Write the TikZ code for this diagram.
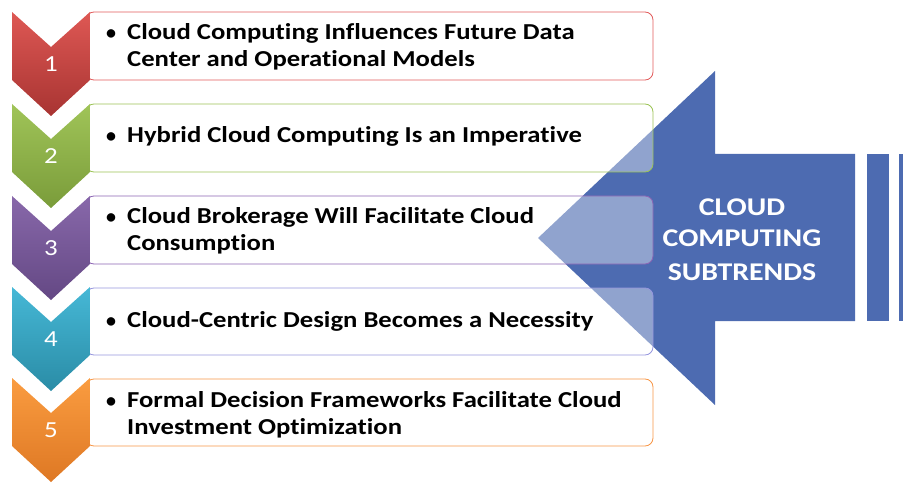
\documentclass[tikz,border=0pt]{standalone}
\usepackage{fontspec}
\setmainfont{Carlito}[Ligatures=NoCommon]
\newfontfamily\widefont{Carlito}[FakeStretch=1.17, Ligatures=NoCommon]
\definecolor{arrowblue}{RGB}{77,107,177}
\definecolor{redA}{RGB}{222,88,84}
\definecolor{redB}{RGB}{168,52,50}
\definecolor{greenA}{RGB}{160,196,88}
\definecolor{greenB}{RGB}{122,156,58}
\definecolor{purpA}{RGB}{136,104,170}
\definecolor{purpB}{RGB}{100,72,132}
\definecolor{tealA}{RGB}{70,184,214}
\definecolor{tealB}{RGB}{42,140,166}
\definecolor{oranA}{RGB}{250,156,64}
\definecolor{oranB}{RGB}{222,120,36}
\definecolor{bred}{RGB}{226,92,92}
\definecolor{bgreen}{RGB}{155,195,85}
\definecolor{bpurp}{RGB}{140,100,180}
\definecolor{blav}{RGB}{150,150,222}
\definecolor{boran}{RGB}{247,150,70}
\tikzset{
  itembox/.style={rounded corners=8pt, line width=0.8pt, fill=white, fill opacity=0.38},
  itemtext/.style={anchor=base west, inner sep=0pt, font=\widefont\fontsize{22.8}{27}\selectfont\bfseries, text=black},
  bul/.style={anchor=base, inner sep=0pt, font=\fontsize{20}{27}\selectfont\bfseries},
  numtext/.style={inner sep=0pt, font=\widefont\fontsize{23}{28}\selectfont, text=white},
  bigtext/.style={anchor=base, inner sep=0pt, font=\widefont\fontsize{25.5}{30}\selectfont\bfseries, text=white}
}
\newcommand{\chev}[3]{%
  \shade[top color=#2, bottom color=#3] (12,#1) -- (51,#1+35) -- (90,#1) -- (90,#1+68) -- (51,#1+104) -- (12,#1+68) -- cycle;}
\begin{document}
\begin{tikzpicture}[x=1pt,y=-1pt]
\useasboundingbox (0,0) rectangle (903,484);
% big arrow
\fill[arrowblue] (538,238) -- (715,71) -- (715,154) -- (855,154) -- (855,321) -- (715,321) -- (715,405) -- cycle;
\fill[arrowblue] (867,154) rectangle (889,321);
\fill[arrowblue] (899,154) rectangle (903,321);
\node[bigtext] (big1) at (742,215) {CLOUD};
\node[bigtext] (big2) at (742,247) {COMPUTING};
\node[bigtext] (big3) at (742,280) {SUBTRENDS};
% boxes
\draw[itembox, draw=bred] (86,12) rectangle (653,80);
\draw[itembox, draw=bgreen] (86,104) rectangle (653,172);
\draw[itembox, draw=bpurp] (86,196) rectangle (653,264);
\draw[itembox, draw=blav] (86,288) rectangle (653,355);
\draw[itembox, draw=boran] (86,379) rectangle (653,446);
% chevrons
\chev{12}{redA}{redB}
\chev{104}{greenA}{greenB}
\chev{196}{purpA}{purpB}
\chev{287}{tealA}{tealB}
\chev{378}{oranA}{oranB}
\node[numtext] (n1) at (51,64) {1};
\node[numtext] (n2) at (51,156) {2};
\node[numtext] (n3) at (51,248) {3};
\node[numtext] (n4) at (51,339) {4};
\node[numtext] (n5) at (51,430) {5};
% texts
\node[bul] (b1) at (111,40) {•};
\node[itemtext] (t1a) at (127,40) {Cloud Computing Influences Future Data};
\node[itemtext] (t1b) at (127,67) {Center and Operational Models};
\node[bul] (b2) at (111,143) {•};
\node[itemtext] (t2a) at (127,143) {Hybrid Cloud Computing Is an Imperative};
\node[bul] (b3) at (111,224) {•};
\node[itemtext] (t3a) at (127,224) {Cloud Brokerage Will Facilitate Cloud};
\node[itemtext] (t3b) at (127,251) {Consumption};
\node[bul] (b4) at (111,327) {•};
\node[itemtext] (t4a) at (127,327) {Cloud-Centric Design Becomes a Necessity};
\node[bul] (b5) at (111,407) {•};
\node[itemtext] (t5a) at (127,407) {Formal Decision Frameworks Facilitate Cloud};
\node[itemtext] (t5b) at (127,434) {Investment Optimization};
\end{tikzpicture}
\end{document}
